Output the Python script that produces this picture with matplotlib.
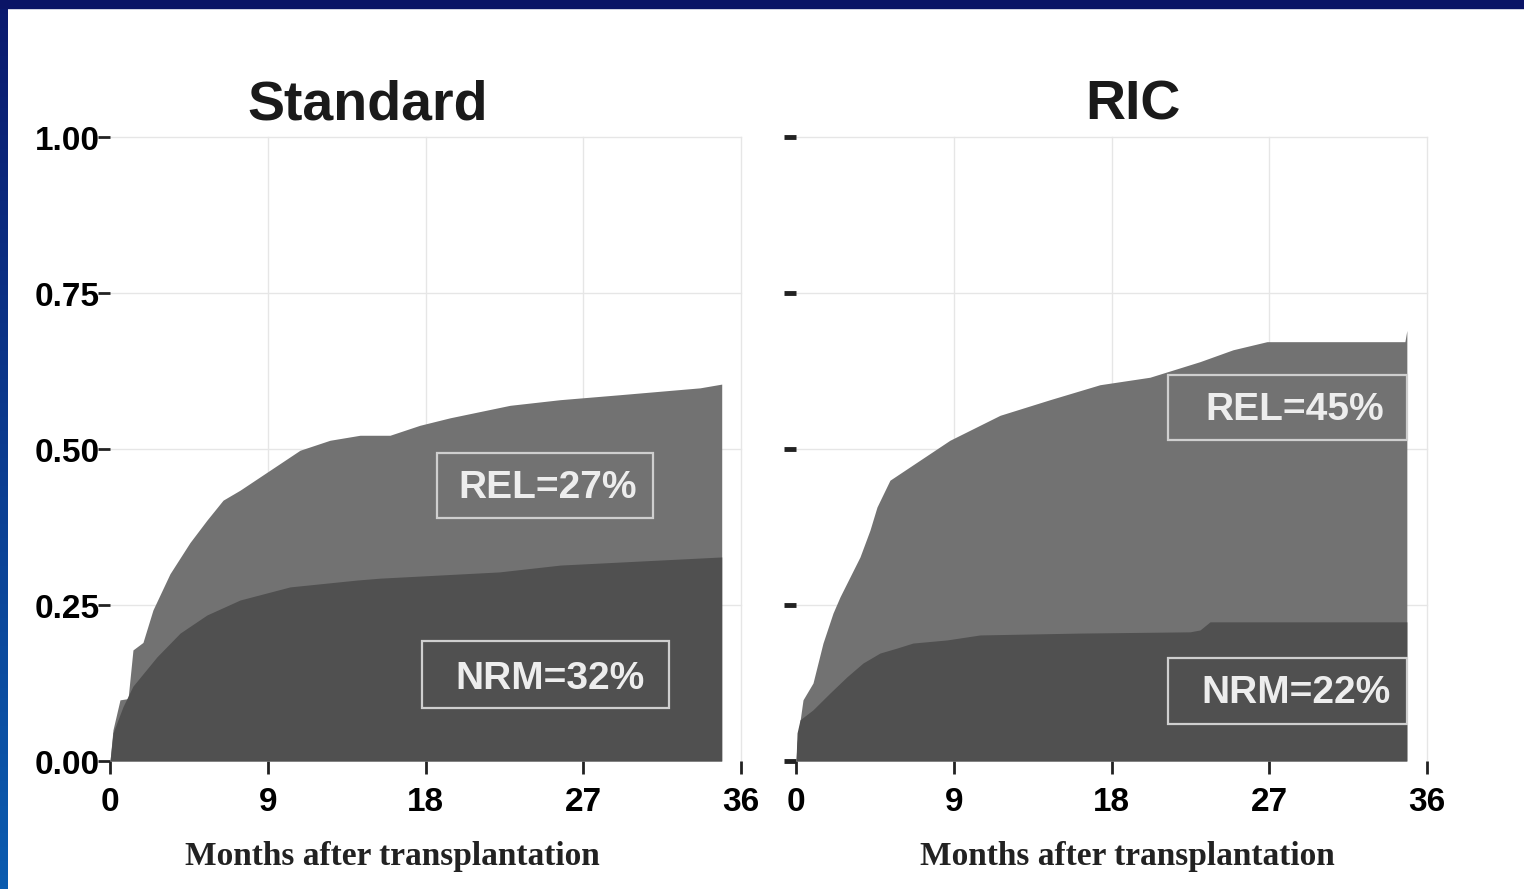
import numpy as np
import matplotlib
matplotlib.use("Agg")
import matplotlib.pyplot as plt
import matplotlib.transforms as mtransforms
from matplotlib.patches import Rectangle

# cumulative incidence, months after transplantation
std_top_t = [0, 0.17, 0.57, 1.03, 1.31, 1.88, 2.45, 3.42, 4.56, 5.53, 6.45, 7.42, 9.13,
             10.84, 12.55, 14.26, 15.97, 17.68, 19.4, 22.82, 25.67, 29.09, 33.66, 34.9]
std_top = [0, 0.05, 0.098, 0.10, 0.178, 0.19, 0.242, 0.30, 0.35, 0.386, 0.418, 0.434, 0.466,
           0.498, 0.514, 0.522, 0.522, 0.538, 0.55, 0.57, 0.579, 0.587, 0.598, 0.604]
std_nrm_t = [0, 0.17, 0.74, 1.31, 2.68, 4.0, 5.53, 7.42, 10.27, 14.1, 15.4, 22.2, 25.7, 34.9]
std_nrm = [0, 0.045, 0.087, 0.12, 0.167, 0.205, 0.234, 0.258, 0.279, 0.29, 0.293, 0.303,
           0.314, 0.327]

ric_top_t = [0, 0.06, 0.4, 0.97, 1.54, 2.11, 2.51, 3.08, 3.65, 4.22, 4.62, 5.36, 7.07, 8.78,
             11.64, 14.49, 17.34, 20.19, 23.05, 24.93, 26.87, 34.74, 34.85]
ric_top = [0, 0.03, 0.098, 0.125, 0.189, 0.237, 0.263, 0.295, 0.327, 0.37, 0.407, 0.45, 0.482,
           0.514, 0.554, 0.579, 0.603, 0.615, 0.64, 0.659, 0.672, 0.672, 0.69]
ric_nrm_t = [0, 0.06, 0.23, 0.97, 1.94, 2.91, 3.82, 4.79, 5.76, 6.67, 8.61, 10.5, 16.2, 22.48,
             23.05, 23.62, 34.85]
ric_nrm = [0, 0.045, 0.066, 0.082, 0.109, 0.135, 0.157, 0.173, 0.181, 0.189, 0.194, 0.202,
           0.205, 0.207, 0.21, 0.223, 0.223]

titles = ["Standard", "RIC"]
rel_labels = ["REL=27%", "REL=45%"]
nrm_labels = ["NRM=32%", "NRM=22%"]
xticks = [0, 9, 18, 27, 36]
yticks = [0.0, 0.25, 0.5, 0.75, 1.0]

NRM_COL = "#505050"
REL_COL = "#727272"
BOX_COL = "#cfcfcf"
TXT_COL = "#ededed"

fig = plt.figure(figsize=(15.24, 8.89), dpi=100)
fig.patch.set_facecolor("white")

# slide frame: navy band on top, blue gradient down the left
band = fig.add_axes([0, 0, 8 / 1524, 1])
band.imshow(np.linspace(0, 1, 256).reshape(-1, 1),
            cmap=matplotlib.colors.LinearSegmentedColormap.from_list("b", ["#0a1a6e", "#0a5cb0"]),
            aspect="auto", extent=[0, 1, 0, 1], origin="upper")
band.axis("off")
fig.patches.append(Rectangle((0, 1 - 8 / 889), 1, 8 / 889, transform=fig.transFigure,
                             color="#0a1466", zorder=10))

lefts = [110 / 1524, 796 / 1524]
title_x = [0.409, 0.534]
xlabel_x = [0.448, 0.525]
curves = [(std_top_t, std_top, std_nrm_t, std_nrm), (ric_top_t, ric_top, ric_nrm_t, ric_nrm)]
rel_boxes = [(18.65, 0.3894, 12.32, 0.1042, 24.99, 0.4375),
             (21.22, 0.5144, 13.63, 0.1042, 28.47, 0.5625)]
nrm_boxes = [(17.80, 0.0849, 14.09, 0.1074, 25.10, 0.131),
             (21.22, 0.0593, 13.63, 0.1057, 28.52, 0.109)]

# y labels sit a little left of and below their tick marks
label_offset = mtransforms.ScaledTranslation(-0.10, -0.05, fig.dpi_scale_trans)

for i in range(2):
    ax = fig.add_axes([lefts[i], 128 / 889, 631 / 1524, 624 / 889])
    tt, top, nt, nrm = curves[i]
    ax.fill_between(tt, 0, top, color=REL_COL, lw=0, zorder=2)
    ax.fill_between(nt, 0, nrm, color=NRM_COL, lw=0, zorder=3)

    for v in [9, 18, 27, 36]:
        ax.plot([v, v], [0, 1], color="#e6e6e6", lw=1, zorder=1, clip_on=False)
    for v in [0.25, 0.5, 0.75, 1.0]:
        ax.plot([0, 36], [v, v], color="#e6e6e6", lw=1, zorder=1, clip_on=False)

    for (x0, y0, w, h, tx, ty), lab in [(rel_boxes[i], rel_labels[i]), (nrm_boxes[i], nrm_labels[i])]:
        ax.add_patch(Rectangle((x0, y0), w, h, fill=False, ec=BOX_COL, lw=1.6, zorder=4))
        ax.text(tx, ty, lab, color=TXT_COL, fontsize=28, fontweight="bold",
                family="Liberation Sans", ha="center", va="center", zorder=5)

    ax.set_xlim(0, 36)
    ax.set_ylim(0, 1)
    for s in ax.spines.values():
        s.set_visible(False)
    ax.set_xticks(xticks)
    ax.set_yticks(yticks)
    ax.set_xticklabels([str(v) for v in xticks], fontsize=24, fontweight="bold",
                       family="Liberation Sans")
    ax.set_yticklabels([])
    if i == 0:
        for v in yticks:
            ax.text(0, v, "%.2f" % v, fontsize=24, fontweight="bold", family="Liberation Sans",
                    ha="right", va="center",
                    transform=ax.get_yaxis_transform() + label_offset, clip_on=False)
    ax.tick_params(axis="x", length=9, width=2, color="#222222", pad=10)
    ax.tick_params(axis="y", length=9, width=2 if i == 0 else 3.5, color="#222222", pad=0)

    fig.text(lefts[i] + title_x[i] * 631 / 1524, 1 - 100 / 889, titles[i], fontsize=40,
             fontweight="bold", family="Liberation Sans", ha="center", va="center_baseline",
             color="#1a1a1a")
    fig.text(lefts[i] + xlabel_x[i] * 631 / 1524, 1 - 857 / 889, "Months after transplantation",
             fontsize=24, fontweight="bold", family="Liberation Serif", ha="center",
             va="center", color="#222222")

fig.savefig("out.png", dpi=100)
